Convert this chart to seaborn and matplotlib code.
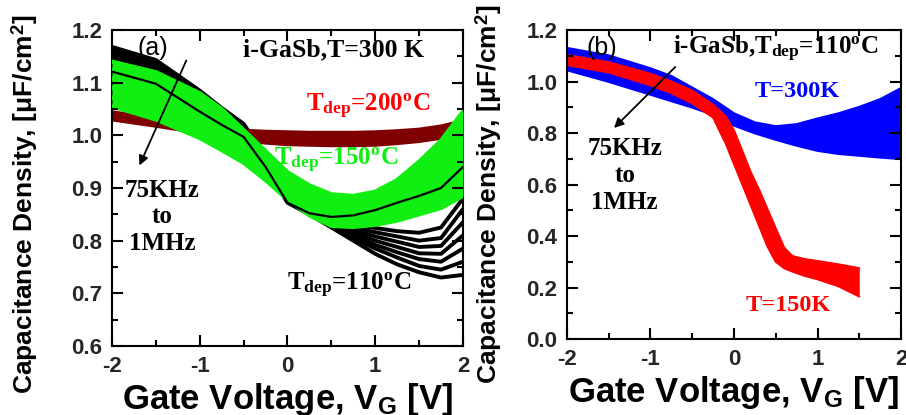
import numpy as np
import pandas as pd
import seaborn as sns
import matplotlib.pyplot as plt
from matplotlib.ticker import MultipleLocator

# ---- panel (a) data: i-GaSb, T=300 K, several deposition temperatures ----
va = [-2, -1.5, -1, -0.75, -0.5, -0.25, 0, 0.25, 0.5, 0.75, 1, 1.25, 1.5, 1.75, 2]

black_110 = [
    [1.168, 1.143, 1.085, 1.052, 1.022, 0.960, 0.885, 0.850, 0.825, 0.800, 0.775, 0.755, 0.740, 0.730, 0.735],
    [1.162, 1.138, 1.080, 1.047, 1.017, 0.955, 0.882, 0.850, 0.826, 0.805, 0.785, 0.768, 0.752, 0.745, 0.760],
    [1.156, 1.133, 1.075, 1.043, 1.013, 0.952, 0.880, 0.850, 0.828, 0.810, 0.792, 0.778, 0.765, 0.760, 0.785],
    [1.150, 1.128, 1.070, 1.038, 1.008, 0.948, 0.878, 0.850, 0.830, 0.815, 0.800, 0.788, 0.776, 0.775, 0.810],
    [1.145, 1.123, 1.065, 1.034, 1.004, 0.945, 0.876, 0.850, 0.832, 0.820, 0.808, 0.798, 0.788, 0.790, 0.835],
    [1.140, 1.118, 1.060, 1.030, 1.000, 0.942, 0.874, 0.850, 0.834, 0.825, 0.816, 0.808, 0.800, 0.805, 0.860],
    [1.135, 1.112, 1.055, 1.025, 0.996, 0.940, 0.872, 0.850, 0.836, 0.830, 0.824, 0.818, 0.815, 0.825, 0.880],
]
black_110_top = [
    [1.121, 1.098, 1.045, 1.020, 0.997, 0.940, 0.872, 0.852, 0.845, 0.848, 0.858, 0.872, 0.885, 0.900, 0.940],
]

brown_200 = [
    [1.045, 1.033, 1.020, 1.014, 1.010, 1.008, 1.007, 1.006, 1.006, 1.006, 1.007, 1.009, 1.012, 1.018, 1.028],
    [1.041, 1.029, 1.016, 1.009, 1.004, 1.002, 1.000, 0.999, 0.999, 0.999, 1.000, 1.002, 1.006, 1.012, 1.022],
    [1.037, 1.025, 1.012, 1.005, 0.999, 0.996, 0.994, 0.993, 0.992, 0.992, 0.993, 0.996, 1.000, 1.006, 1.016],
    [1.033, 1.021, 1.008, 1.000, 0.994, 0.990, 0.988, 0.987, 0.986, 0.986, 0.987, 0.990, 0.994, 1.000, 1.010],
    [1.029, 1.017, 1.004, 0.996, 0.989, 0.985, 0.982, 0.981, 0.980, 0.980, 0.981, 0.984, 0.988, 0.994, 1.004],
]

green_150 = [
    [1.140, 1.120, 1.080, 1.050, 1.010, 0.970, 0.930, 0.905, 0.888, 0.885, 0.893, 0.915, 0.950, 0.990, 1.045],
    [1.125, 1.103, 1.064, 1.035, 0.998, 0.960, 0.920, 0.894, 0.876, 0.873, 0.880, 0.900, 0.935, 0.975, 1.025],
    [1.108, 1.085, 1.047, 1.020, 0.986, 0.948, 0.910, 0.883, 0.864, 0.860, 0.866, 0.884, 0.915, 0.950, 0.990],
    [1.090, 1.067, 1.030, 1.005, 0.973, 0.937, 0.900, 0.872, 0.852, 0.848, 0.853, 0.868, 0.895, 0.925, 0.963],
    [1.072, 1.048, 1.012, 0.988, 0.960, 0.926, 0.889, 0.860, 0.840, 0.837, 0.841, 0.852, 0.872, 0.895, 0.925],
    [1.055, 1.030, 0.995, 0.972, 0.948, 0.915, 0.878, 0.848, 0.828, 0.826, 0.830, 0.838, 0.850, 0.862, 0.885],
]

# ---- panel (b) data: i-GaSb, Tdep=110 C, two measurement temperatures ----
vb_blue = [-2, -1.5, -1, -0.75, -0.5, -0.25, 0, 0.25, 0.5, 0.75, 1, 1.25, 1.5, 1.75, 2]
blue_300K_top = [1.129, 1.100, 1.050, 1.020, 0.975, 0.930, 0.875, 0.840, 0.825, 0.833, 0.855, 0.875, 0.900, 0.930, 0.973]
blue_300K_bot = [1.045, 1.000, 0.950, 0.925, 0.900, 0.872, 0.830, 0.800, 0.775, 0.752, 0.732, 0.720, 0.713, 0.706, 0.700]

vb_red = [-2, -1.5, -1, -0.75, -0.5, -0.25, -0.1, 0, 0.1, 0.2, 0.3, 0.4, 0.5, 0.6, 0.7, 0.85, 1.0, 1.25, 1.5]
red_150K_top = [1.103, 1.075, 1.030, 1.000, 0.965, 0.910, 0.865, 0.810, 0.730, 0.648, 0.580, 0.505, 0.430, 0.355, 0.322, 0.310, 0.303, 0.290, 0.275]
red_150K_bot = [1.064, 1.035, 0.985, 0.955, 0.915, 0.860, 0.760, 0.680, 0.600, 0.520, 0.440, 0.360, 0.300, 0.275, 0.262, 0.245, 0.232, 0.205, 0.165]


def long_df(x, curves):
    rows = []
    for i, c in enumerate(curves):
        for xv, yv in zip(x, c):
            rows.append({'V': xv, 'C': yv, 'curve': i})
    return pd.DataFrame(rows)


sns.set_style("ticks")
plt.rcParams.update({
    'font.family': ['Liberation Sans', 'DejaVu Sans'],
    'font.weight': 'bold',
    'axes.labelweight': 'bold',
    'axes.unicode_minus': False,
    'text.color': 'black',
    'axes.labelcolor': 'black',
    'axes.edgecolor': 'black',
    'axes.linewidth': 1.5,
    'mathtext.fontset': 'custom',
    'mathtext.rm': 'Liberation Serif:bold',
    'mathtext.bf': 'Liberation Sans:bold',
    'mathtext.it': 'Liberation Serif:bold',
})

GREEN = '#11ee11'
BROWN = '#7f0000'
serif = dict(family='Liberation Serif', weight='bold')

fig = plt.figure(figsize=(9.06, 4.15), dpi=100)
ax1 = fig.add_axes([0.1236, 0.1663, 0.3874, 0.7614])
ax2 = fig.add_axes([0.6258, 0.1831, 0.3687, 0.7446])


def draw(ax, x, curves, color, lw, z):
    sns.lineplot(data=long_df(x, curves), x='V', y='C', units='curve', estimator=None,
                 color=color, linewidth=lw, sort=False, ax=ax, legend=False, zorder=z)


# panel (a)
draw(ax1, va, black_110, 'black', 2.8, 1)
ax1.fill_between(va, brown_200[0], brown_200[-1], color=BROWN, lw=0, zorder=2)
draw(ax1, va, brown_200, BROWN, 2.0, 2)
ax1.fill_between(va, green_150[0], green_150[-1], color=GREEN, lw=0, zorder=3)
draw(ax1, va, green_150, GREEN, 3.0, 3)
draw(ax1, va, black_110_top, 'black', 1.6, 4)

# panel (b)
ax2.fill_between(vb_blue, blue_300K_top, blue_300K_bot, color='#0000ff', lw=0, zorder=1)
draw(ax2, vb_blue, [blue_300K_top, blue_300K_bot], '#0000ff', 2.0, 1)
ax2.fill_between(vb_red, red_150K_top, red_150K_bot, color='#ff0000', lw=0, zorder=2)
draw(ax2, vb_red, [red_150K_top, red_150K_bot], '#ff0000', 1.5, 2)

ax1.set_ylim(0.6, 1.2)
ax1.yaxis.set_major_locator(MultipleLocator(0.1))
ax1.yaxis.set_minor_locator(MultipleLocator(0.05))
ax1.yaxis.set_major_formatter(lambda v, pos: f'{v:.1f}')
ax2.set_ylim(0.0, 1.2)
ax2.yaxis.set_major_locator(MultipleLocator(0.2))
ax2.yaxis.set_minor_locator(MultipleLocator(0.1))

for ax in (ax1, ax2):
    ax.set_xlim(-2, 2)
    ax.xaxis.set_major_locator(MultipleLocator(1))
    ax.xaxis.set_minor_locator(MultipleLocator(0.5))
    ax.set_xlabel('Gate Voltage, V$_{\\mathbf{G}}$ [V]', fontsize=25, labelpad=3)
    ax.set_ylabel('Capacitance Density, [\u03bcF/cm$^{\\mathbf{2}}$]', fontsize=19)
    ax.tick_params(axis='both', which='both', direction='in', length=0, labelsize=16, pad=7)

ax1.yaxis.set_label_coords(-0.206, 0.45)
ax2.yaxis.set_label_coords(-0.19, 0.47)

# inward tick marks on all four sides, at the locator positions
for ax in (ax1, ax2):
    bb = ax.get_position()
    h_px = bb.height * fig.get_figheight() * fig.dpi
    w_px = bb.width * fig.get_figwidth() * fig.dpi
    x0, x1 = ax.get_xlim()
    y0, y1 = ax.get_ylim()
    for minor, L in ((False, 11), (True, 6)):
        xt = [v for v in ax.xaxis.get_ticklocs(minor=minor) if x0 - 1e-9 <= v <= x1 + 1e-9]
        yt = [v for v in ax.yaxis.get_ticklocs(minor=minor) if y0 - 1e-9 <= v <= y1 + 1e-9]
        fy = L / h_px
        fx = L / w_px
        kw = dict(colors='black', linewidth=1.5, zorder=20, clip_on=False)
        ax.vlines(xt, 0, fy, transform=ax.get_xaxis_transform(), **kw)
        ax.vlines(xt, 1 - fy, 1, transform=ax.get_xaxis_transform(), **kw)
        ax.hlines(yt, 0, fx, transform=ax.get_yaxis_transform(), **kw)
        ax.hlines(yt, 1 - fx, 1, transform=ax.get_yaxis_transform(), **kw)
    ax.set_xlim(x0, x1)
    ax.set_ylim(y0, y1)

# annotations (a)
ax1.text(-1.54, 1.165, '(a)', fontsize=18, fontweight='normal', ha='center', va='center', zorder=11)
ax1.text(0.52, 1.163, 'i-GaSb,T=300 K', fontsize=18.5, ha='center', va='center', zorder=11, **serif)
ax1.text(0.92, 1.045, 'T$_{\\mathrm{dep}}$=200$^{\\mathrm{o}}$C', fontsize=18, color='#ff0000',
         ha='center', va='baseline', zorder=11, **serif)
ax1.text(0.55, 0.942, 'T$_{\\mathrm{dep}}$=150$^{\\mathrm{o}}$C', fontsize=18, color=GREEN,
         ha='center', va='baseline', zorder=11, **serif)
ax1.text(0.70, 0.705, 'T$_{\\mathrm{dep}}$=110$^{\\mathrm{o}}$C', fontsize=18, color='black',
         ha='center', va='baseline', zorder=11, **serif)
ax1.text(-1.43, 0.845, '75KHz\nto\n1MHz', fontsize=18, ha='center', va='center',
         linespacing=1.2, zorder=11, **serif)
ax1.annotate('', xy=(-1.70, 0.938), xytext=(-1.14, 1.147), zorder=11,
             arrowprops=dict(arrowstyle='-|>', color='black', lw=1.3, mutation_scale=14))

# annotations (b)
ax2.text(-1.58, 1.13, '(b)', fontsize=18, fontweight='normal', ha='center', va='center', zorder=11)
ax2.text(-0.73, 1.105, 'i-GaSb,T$_{\\mathrm{dep}}$=110$^{\\mathrm{o}}$C', fontsize=18,
         ha='left', va='baseline', zorder=11, **serif)
ax2.text(0.76, 0.963, 'T=300K', fontsize=17.5, color='#0000ff', ha='center', va='center', zorder=11, **serif)
ax2.text(0.65, 0.132, 'T=150K', fontsize=17.5, color='#ff0000', ha='center', va='center', zorder=11, **serif)
ax2.text(-1.31, 0.635, '75KHz\nto\n1MHz', fontsize=18, ha='center', va='center',
         linespacing=1.2, zorder=11, **serif)
ax2.annotate('', xy=(-1.46, 0.812), xytext=(-0.68, 1.064), zorder=11,
             arrowprops=dict(arrowstyle='-|>', color='black', lw=1.3, mutation_scale=14))

fig.savefig('out.png', dpi=100)
plt.close(fig)
